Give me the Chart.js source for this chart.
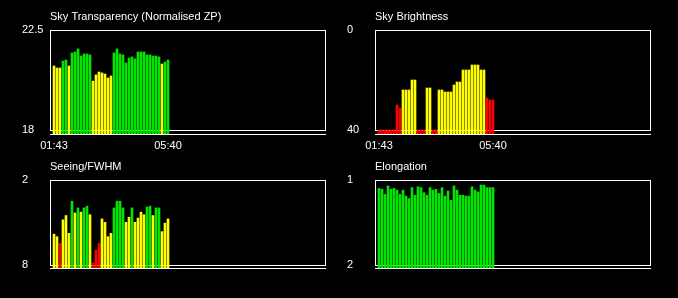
<!DOCTYPE html>
<html lang="en">
<head>
<meta charset="UTF-8">
<title>Sky conditions</title>
<script src="https://cdn.jsdelivr.net/npm/chart.js"></script>
<style>
    body { margin: 0; background-color: #000; }
    #wrap { position: relative; width: 678px; height: 298px; background: #000; }
    canvas { position: absolute; }
</style>
</head>
<body>
<div id="wrap">
    <canvas id="transp" width="339" height="150" style="left:0;top:0"></canvas>
    <canvas id="bright" width="339" height="150" style="left:339px;top:0"></canvas>
    <canvas id="seeing" width="339" height="148" style="left:0;top:150px"></canvas>
    <canvas id="elong" width="339" height="148" style="left:339px;top:150px"></canvas>
</div>
<script>
// time axis: only first and last sample are labelled
const timeLabels = ['01:43', '05:40']
const timeIdx = [0, 38]

const transparency = [20.88, 20.79, 20.79, 21.1, 21.15, 20.88, 21.47, 21.51, 21.65, 21.33, 21.42, 21.42, 21.38,
    20.2, 20.48, 20.61, 20.57, 20.52, 20.34, 20.43,
    21.47, 21.65, 21.42, 21.38, 21.02, 21.24, 21.29, 21.2, 21.51, 21.51, 21.51, 21.38, 21.38, 21.33, 21.33, 21.29,
    20.97, 21.06, 21.15]
const transparencyFlag = [...('yyy' + 'gg' + 'y' + 'ggggggg' + 'yyyyyyy' + 'gggggggggggggggg' + 'y' + 'gg')]

const brightness = [40, 40, 40, 40, 40, 40, 30, 31.2, 24, 24, 24, 20, 20, 40, 40, 40, 23.2, 23.2, 40, 40,
    24, 24, 24.8, 24.8, 24.8, 22, 20.8, 20.8, 16, 16, 16, 14, 14, 14, 16, 16, 27.2, 28, 28]
const brightnessFlag = [...('rrrrrrrr' + 'yyyyy' + 'rrr' + 'yy' + 'rr' + 'yyyyyyyyyyyyyyyy' + 'rrr')]

const seeing = [5.84, 6.02, 6.5, 4.82, 4.52, 5.78, 3.5, 4.34, 3.98, 4.28, 3.98, 3.86, 4.46, 7.88, 6.98, 6.5,
    4.76, 5.0, 6.02, 5.78, 3.98, 3.5, 3.5, 3.98, 5.0, 4.64, 3.98, 5.0, 4.7, 4.28, 4.46, 3.92, 3.86, 4.52,
    3.98, 3.98, 5.66, 5.06, 4.76]
const seeingFlag = [...'yyryyygygyggyrrryyyyggggyygyyyyggyggyyy']

const elongation = [1.10, 1.11, 1.17, 1.07, 1.11, 1.10, 1.12, 1.17, 1.12, 1.19, 1.22, 1.09, 1.18, 1.08, 1.09,
    1.15, 1.18, 1.09, 1.12, 1.11, 1.16, 1.09, 1.19, 1.13, 1.24, 1.07, 1.12, 1.18, 1.18, 1.19, 1.19, 1.08,
    1.12, 1.14, 1.06, 1.06, 1.09, 1.09, 1.09]
const elongationFlag = elongation.map(() => 'g')

const flagColor = { g: '#00e600', y: '#ffff00', r: '#ff0000' }
const fuente = "'Liberation Sans', Arial, sans-serif"

// white frame from top tick to bottom tick, plus a base line under the bars
const marco = {
    id: 'marco',
    beforeDatasetsDraw(chart, args, opts) {
        const { ctx, chartArea: a, scales: { y } } = chart
        const t = Math.round(y.getPixelForValue(opts.top)) + 0.5
        const b = Math.round(y.getPixelForValue(opts.bottom)) + 0.5
        ctx.save()
        ctx.strokeStyle = '#fff'
        ctx.lineWidth = 1
        ctx.strokeRect(a.left + 0.5, t, a.right - a.left, b - t)
        ctx.beginPath()
        ctx.moveTo(a.left, a.bottom + 0.5)
        ctx.lineTo(a.right + 1, a.bottom + 0.5)
        ctx.stroke()
        ctx.restore()
    }
}

function panel(id, titulo, valores, flags, top, bottom, showTimes, padLeft) {
    const reversed = top < bottom
    const perPx = Math.abs(bottom - top) / 100
    const base = reversed ? bottom + 4 * perPx : bottom - 4 * perPx
    return new Chart(document.getElementById(id), {
        type: 'bar',
        data: {
            datasets: [{
                data: valores.map((v, i) => ({ x: i, y: [base, v] })),
                backgroundColor: flags.map(f => flagColor[f]),
                barThickness: 2,
                borderWidth: 0
            }]
        },
        options: {
            responsive: false,
            animation: false,
            layout: { padding: { left: padLeft, right: 339 - padLeft - 28 - 275, bottom: showTimes ? 0 : 14 } },
            plugins: {
                legend: { display: false },
                tooltip: { enabled: false },
                title: {
                    display: true, text: titulo, align: 'start', fullSize: false,
                    color: '#fff', font: { family: fuente, size: 11, weight: 'normal' },
                    padding: { top: 10, bottom: 6.8 }
                },
                marco: { top: top, bottom: bottom }
            },
            scales: {
                x: {
                    type: 'linear',
                    display: showTimes,
                    offset: false,
                    min: -4 / 3,
                    max: -4 / 3 + 275 / 3,
                    grid: { display: false, drawTicks: false },
                    border: { display: false },
                    afterBuildTicks: s => { s.ticks = timeIdx.map(v => ({ value: v })) },
                    afterFit: s => { s.height = 16 },
                    ticks: {
                        color: '#fff', font: { family: fuente, size: 11 }, padding: 5,
                        maxRotation: 0, autoSkip: false,
                        callback: v => timeLabels[timeIdx.indexOf(v)]
                    }
                },
                y: {
                    reverse: reversed,
                    min: Math.min(top, base),
                    max: Math.max(top, base),
                    grid: { display: false, drawTicks: false },
                    border: { display: false },
                    afterBuildTicks: s => { s.ticks = [{ value: top }, { value: bottom }] },
                    afterFit: s => { s.width = 28 },
                    ticks: {
                        color: '#fff', font: { family: fuente, size: 11 }, padding: 0,
                        crossAlign: 'far',
                        callback: v => String(v)
                    }
                }
            }
        },
        plugins: [marco]
    })
}

panel('transp', 'Sky Transparency (Normalised ZP)', transparency, transparencyFlag, 22.5, 18, true, 22)
panel('bright', 'Sky Brightness', brightness, brightnessFlag, 0, 40, true, 8)
panel('seeing', 'Seeing/FWHM', seeing, seeingFlag, 2, 8, false, 22)
panel('elong', 'Elongation', elongation, elongationFlag, 1, 2, false, 8)
</script>
</body>
</html>
